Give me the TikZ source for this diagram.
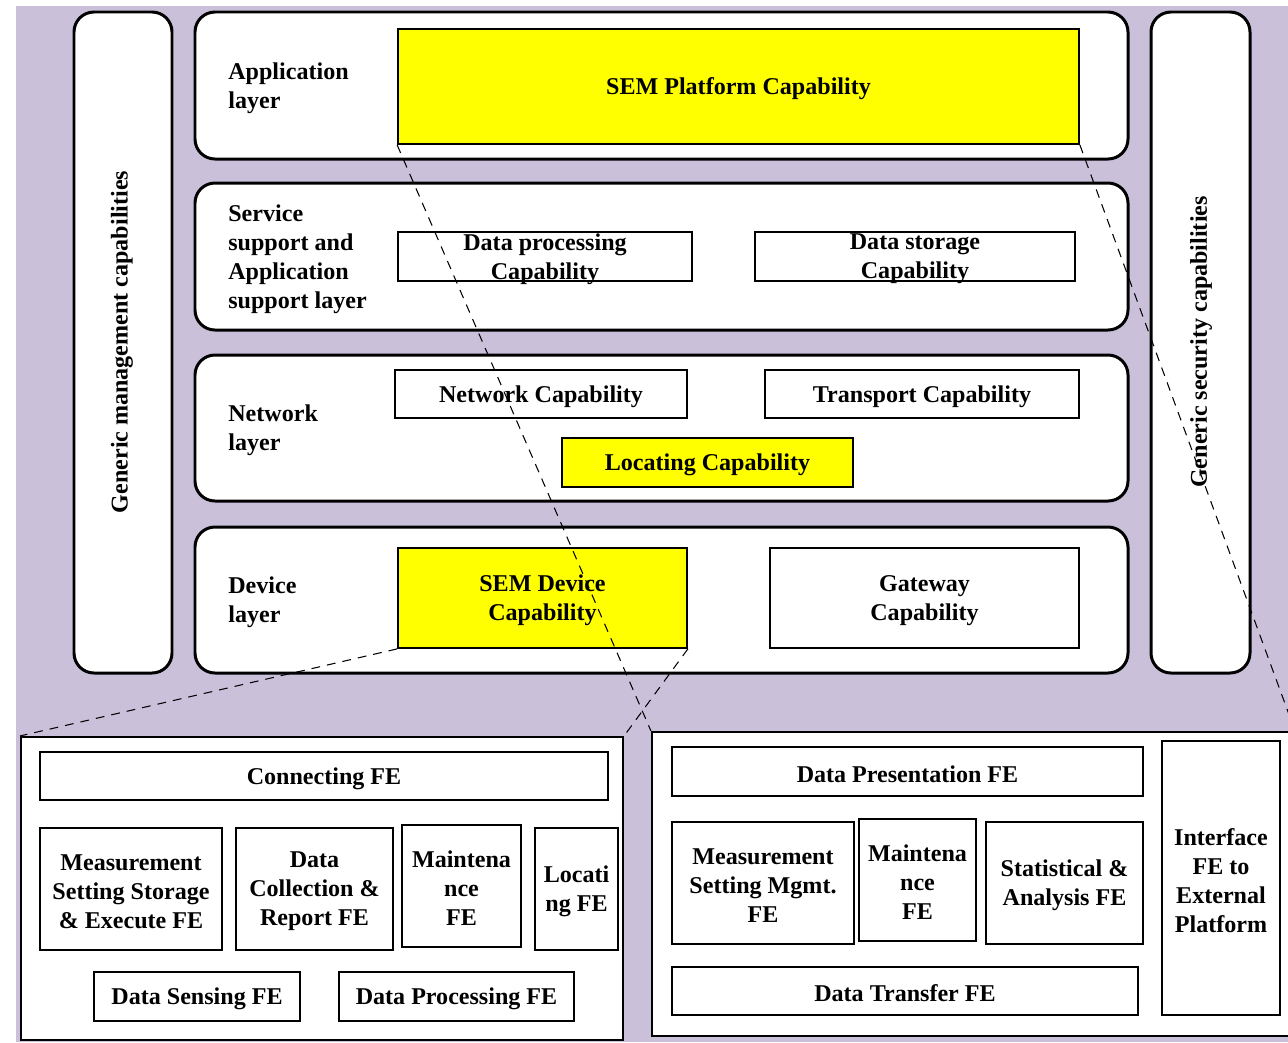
\documentclass[tikz,border=0pt]{standalone}
\usepackage{fontspec}
\setmainfont{Liberation Serif}
\definecolor{lav}{HTML}{CBC0DA}
\definecolor{hl}{HTML}{FFFF00}
% box given by its pixel corners: name, x1, y1, x2, y2, style, text
\newcommand\placebox[7]{%
  \node[#6, minimum width={(#4-#2)*0.02cm}, minimum height={(#5-#3)*0.02cm}]
    (#1) at ({(#2+#4)/2},{(#3+#5)/2}) {};
  \node[boxtext] (#1-text) at ([yshift=-0.05cm]#1.center) {#7};}
\tikzset{
  layer/.style={draw, line width=1.7pt, rounded corners=0.4cm, fill=white, inner sep=0pt},
  capbox/.style={draw, line width=1pt, fill=white, inner sep=0pt},
  yel/.style={capbox, fill=hl},
  fe/.style={draw, line width=1pt, fill=white, inner sep=0pt},
  frame/.style={draw, line width=1.2pt, fill=white, inner sep=0pt},
  boxtext/.style={align=center, inner sep=0pt},
  lbl/.style={anchor=west, align=left, inner sep=0pt},
  zoomline/.style={line width=0.6pt, dash pattern=on 5pt off 4pt}
}
\begin{document}
\begin{tikzpicture}[x=0.02cm, y=-0.02cm,
  font=\bfseries\fontsize{13.7}{16.5}\selectfont]
\useasboundingbox (0,0) rectangle (1288,1042);
\begin{scope}
\clip (0,0) rectangle (1288,1042);
\fill[white] (0,0) rectangle (1288,1042);
\fill[lav] (16,6) rectangle (1288,1042);

% side columns
\placebox{mgmt}{74}{12}{172}{673}{layer}{}
\placebox{sec}{1151}{12}{1250}{673}{layer}{}
\node[rotate=90] (mgmtlbl) at (122,342) {Generic management capabilities};
\node[rotate=90] (seclbl) at (1201,342) {Generic security capabilities};

% layers
\placebox{app}{195}{12}{1128}{159}{layer}{}
\placebox{svc}{195}{183}{1128}{330}{layer}{}
\placebox{net}{195}{355}{1128}{501}{layer}{}
\placebox{dev}{195}{527}{1128}{673}{layer}{}
\node[lbl] (applbl) at (228,88) {Application\\layer};
\node[lbl] (svclbl) at (228,259.5) {Service\\support and\\Application\\support layer};
\node[lbl] (netlbl) at (228,430.5) {Network\\layer};
\node[lbl] (devlbl) at (228,602) {Device\\layer};

% capabilities
\placebox{semplat}{398}{29}{1079}{144}{yel}{SEM Platform Capability}
\placebox{dproc}{398}{232}{692}{281}{capbox}{Data processing\\Capability}
\placebox{dstor}{755}{232}{1075}{281}{capbox}{Data storage\\Capability}
\placebox{netcap}{395}{370}{687}{418}{capbox}{Network Capability}
\placebox{trans}{765}{370}{1079}{418}{capbox}{Transport Capability}
\placebox{loccap}{562}{438}{853}{487}{yel}{Locating Capability}
\placebox{semdev}{398}{548}{687}{648}{yel}{SEM Device\\Capability}
\placebox{gw}{770}{548}{1079}{648}{capbox}{Gateway\\Capability}

% device-side functional entities
\placebox{fel}{21}{737}{623}{1040}{frame}{}
\placebox{conn}{40}{752}{608}{800}{fe}{Connecting FE}
\placebox{msse}{40}{828}{222}{950}{fe}{Measurement\\Setting Storage\\\& Execute FE}
\placebox{dcr}{236}{828}{393}{950}{fe}{Data\\Collection \&\\Report FE}
\placebox{maintl}{402}{825}{521}{947}{fe}{Maintena\\nce\\FE}
\placebox{locfe}{535}{828}{618}{950}{fe}{Locati\\ng FE}
\placebox{sens}{94}{972}{300}{1021}{fe}{Data Sensing FE}
\placebox{dpfe}{339}{972}{574}{1021}{fe}{Data Processing FE}

% platform-side functional entities
\placebox{fer}{652}{732}{1294}{1036}{frame}{}
\placebox{pres}{672}{747}{1143}{796}{fe}{Data Presentation FE}
\placebox{msm}{672}{822}{854}{944}{fe}{Measurement\\Setting Mgmt.\\FE}
\placebox{maintr}{859}{819}{976}{941}{fe}{Maintena\\nce\\FE}
\placebox{stat}{986}{822}{1143}{944}{fe}{Statistical \&\\Analysis FE}
\placebox{xfer}{672}{967}{1138}{1015}{fe}{Data Transfer FE}
\placebox{iface}{1162}{741}{1280}{1015}{fe}{Interface\\FE to\\External\\Platform}

% zoom-out guides
\draw[zoomline] (semdev.south west) -- (fel.north west);
\draw[zoomline] (semdev.south east) -- (fel.north east);
\draw[zoomline] (semplat.south west) -- (fer.north west);
\draw[zoomline] (semplat.south east) -- (fer.north east);
\end{scope}
\end{tikzpicture}
\end{document}
